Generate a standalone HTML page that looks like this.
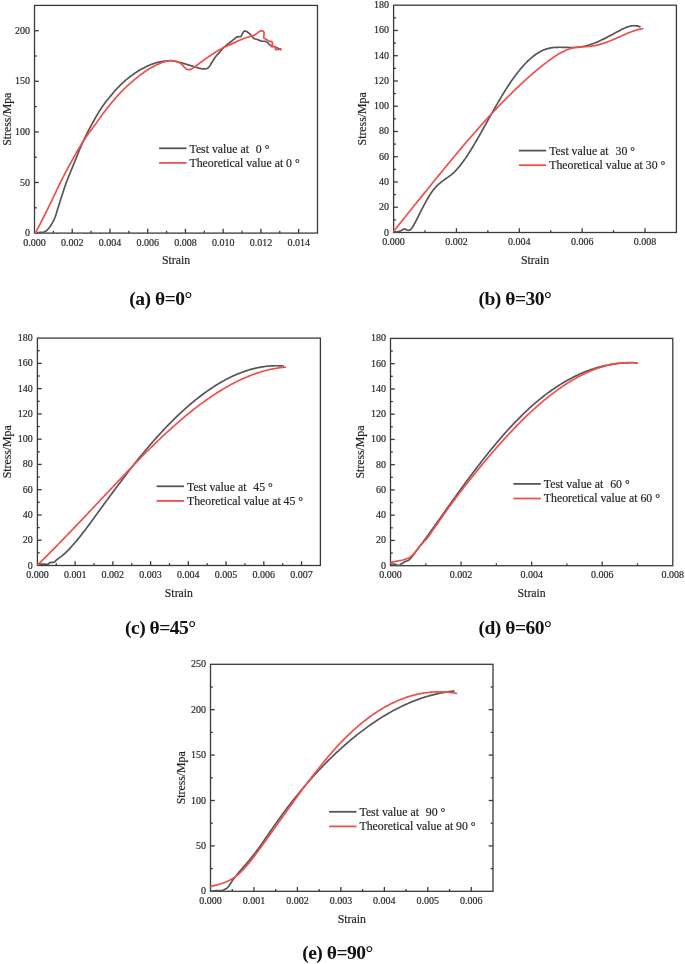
<!DOCTYPE html>
<html><head><meta charset="utf-8"><style>html,body{margin:0;padding:0;background:#fff;}svg{display:block;will-change:transform;}</style></head>
<body>
<svg width="685" height="964" viewBox="0 0 685 964">
<g stroke="#3a3a3a" stroke-width="1.3" fill="none"><line x1="53.37" y1="233.1" x2="53.37" y2="230.8"/><line x1="72.23" y1="233.1" x2="72.23" y2="228.8"/><line x1="91.1" y1="233.1" x2="91.1" y2="230.8"/><line x1="109.97" y1="233.1" x2="109.97" y2="228.8"/><line x1="128.83" y1="233.1" x2="128.83" y2="230.8"/><line x1="147.7" y1="233.1" x2="147.7" y2="228.8"/><line x1="166.57" y1="233.1" x2="166.57" y2="230.8"/><line x1="185.43" y1="233.1" x2="185.43" y2="228.8"/><line x1="204.3" y1="233.1" x2="204.3" y2="230.8"/><line x1="223.17" y1="233.1" x2="223.17" y2="228.8"/><line x1="242.03" y1="233.1" x2="242.03" y2="230.8"/><line x1="260.9" y1="233.1" x2="260.9" y2="228.8"/><line x1="279.77" y1="233.1" x2="279.77" y2="230.8"/><line x1="298.63" y1="233.1" x2="298.63" y2="228.8"/><line x1="34.5" y1="207.8" x2="36.8" y2="207.8"/><line x1="34.5" y1="182.5" x2="38.8" y2="182.5"/><line x1="34.5" y1="157.2" x2="36.8" y2="157.2"/><line x1="34.5" y1="131.9" x2="38.8" y2="131.9"/><line x1="34.5" y1="106.6" x2="36.8" y2="106.6"/><line x1="34.5" y1="81.3" x2="38.8" y2="81.3"/><line x1="34.5" y1="56" x2="36.8" y2="56"/><line x1="34.5" y1="30.7" x2="38.8" y2="30.7"/><rect x="34.5" y="5.4" width="283" height="227.7"/></g>
<g font-family="Liberation Serif" font-size="10" fill="#161616" stroke="#444" stroke-width="0.2"><text x="34.5" y="245.6" text-anchor="middle">0.000</text><text x="72.23" y="245.6" text-anchor="middle">0.002</text><text x="109.97" y="245.6" text-anchor="middle">0.004</text><text x="147.7" y="245.6" text-anchor="middle">0.006</text><text x="185.43" y="245.6" text-anchor="middle">0.008</text><text x="223.17" y="245.6" text-anchor="middle">0.010</text><text x="260.9" y="245.6" text-anchor="middle">0.012</text><text x="298.63" y="245.6" text-anchor="middle">0.014</text><text x="29.9" y="236.1" text-anchor="end">0</text><text x="29.9" y="185.5" text-anchor="end">50</text><text x="29.9" y="134.9" text-anchor="end">100</text><text x="29.9" y="84.3" text-anchor="end">150</text><text x="29.9" y="33.7" text-anchor="end">200</text></g>
<g font-family="Liberation Serif" font-size="11.8" fill="#161616" stroke="#444" stroke-width="0.2"><text x="176" y="264.4" text-anchor="middle">Strain</text><text transform="translate(10.5 119.25) rotate(-90)" text-anchor="middle">Stress/Mpa</text></g>
<g font-family="Liberation Serif" font-size="11.8" fill="#161616" stroke="#444" stroke-width="0.2"><line x1="159.1" y1="148.3" x2="186.5" y2="148.3" stroke="#565656" stroke-width="1.8"/><line x1="159.1" y1="162.9" x2="186.5" y2="162.9" stroke="#f14e4e" stroke-width="1.8"/><text x="189.5" y="152.8" xml:space="preserve">Test value at  <tspan dx="1">0 °</tspan></text><text x="189.5" y="166.7">Theoretical value at 0 °</text></g>
<text x="160.6" y="305" font-family="Liberation Serif" font-weight="bold" font-size="19.5" letter-spacing="-0.5" fill="#111" text-anchor="middle">(a) θ=0°</text>
<path d="M34.8 232.7 L35.97 232.64 L37.29 232.57 L38.77 232.48 L40.02 232.41 L41.33 232.34 L42.59 232.23 L43.75 232.02 L44.81 231.64 L45.77 231.08 L46.71 230.34 L47.69 229.4 L48.5 228.52 L49.21 227.67 L49.95 226.7 L50.73 225.58 L51.53 224.32 L52.06 223.42 L52.6 222.46 L53.15 221.41 L53.72 220.28 L54.28 219.07 L54.83 217.77 L55.26 216.66 L55.64 215.61 L56.02 214.47 L56.4 213.26 L56.78 212.04 L57.15 210.8 L57.52 209.58 L57.88 208.38 L58.25 207.22 L58.61 206.05 L58.97 204.87 L59.34 203.7 L59.7 202.53 L60.06 201.37 L60.42 200.22 L60.78 199.08 L61.15 197.91 L61.53 196.76 L61.89 195.64 L62.25 194.53 L62.62 193.42 L63 192.28 L63.4 191.08 L63.82 189.83 L64.17 188.79 L64.49 187.84 L64.92 186.59 L65.25 185.61 L65.61 184.56 L66.03 183.4 L66.53 182.04 L66.94 180.94 L67.37 179.83 L67.8 178.74 L68.29 177.5 L68.72 176.43 L69.18 175.29 L69.66 174.11 L70.14 172.92 L70.64 171.7 L71.14 170.48 L71.65 169.25 L72.15 168.03 L72.64 166.83 L73.13 165.65 L73.59 164.52 L74.02 163.46 L74.41 162.51 L74.85 161.43 L75.23 160.49 L75.75 159.18 L76.22 157.99 L76.66 156.87 L77.09 155.78 L77.51 154.73 L77.92 153.68 L78.34 152.64 L78.78 151.58 L79.24 150.47 L79.74 149.28 L80.22 148.17 L80.67 147.11 L81.14 146.03 L81.62 144.93 L82.11 143.81 L82.61 142.7 L83.11 141.58 L83.62 140.45 L84.14 139.32 L84.67 138.19 L85.21 137.06 L85.76 135.92 L86.31 134.79 L86.84 133.73 L87.39 132.64 L87.96 131.54 L88.54 130.43 L89.12 129.31 L89.72 128.2 L90.32 127.08 L90.91 125.98 L91.51 124.89 L92.11 123.81 L92.69 122.75 L93.25 121.74 L93.79 120.77 L94.41 119.67 L95.07 118.5 L95.7 117.38 L96.33 116.29 L96.95 115.22 L97.56 114.17 L98.17 113.14 L98.77 112.14 L99.38 111.15 L99.98 110.19 L100.57 109.26 L101.23 108.27 L101.96 107.19 L102.66 106.18 L103.34 105.23 L104.01 104.32 L104.7 103.41 L105.39 102.5 L106.12 101.57 L106.9 100.58 L107.75 99.51 L108.49 98.59 L109.18 97.74 L109.91 96.83 L110.69 95.88 L111.48 94.91 L112.29 93.93 L113.1 92.96 L113.92 92 L114.74 91.05 L115.56 90.12 L116.35 89.24 L117.12 88.41 L117.99 87.49 L118.91 86.54 L119.82 85.64 L120.72 84.76 L121.62 83.91 L122.52 83.08 L123.42 82.26 L124.32 81.46 L125.2 80.68 L126.09 79.93 L127.01 79.15 L127.99 78.34 L128.95 77.55 L129.91 76.79 L130.88 76.05 L131.84 75.33 L132.8 74.62 L133.76 73.94 L134.7 73.28 L135.65 72.64 L136.7 71.96 L137.81 71.26 L138.9 70.6 L139.99 69.97 L141.07 69.36 L142.16 68.77 L143.24 68.2 L144.32 67.64 L145.39 67.11 L146.52 66.56 L147.65 66.03 L148.76 65.52 L149.88 65.03 L150.99 64.56 L152.11 64.12 L153.21 63.72 L154.31 63.34 L155.47 62.99 L156.7 62.65 L157.94 62.35 L159.2 62.08 L160.43 61.83 L161.62 61.61 L162.7 61.43 L163.69 61.27 L165.01 61.08 L166.43 60.9 L167.62 60.8 L168.7 60.74 L169.72 60.72 L170.89 60.74 L172.21 60.84 L173.43 60.99 L174.6 61.18 L175.79 61.41 L177 61.67 L178.19 61.96 L179.39 62.27 L180.59 62.59 L181.8 62.92 L183.03 63.26 L184.26 63.6 L185.49 63.96 L186.7 64.33 L187.9 64.72 L189.1 65.11 L190.29 65.5 L191.5 65.89 L192.71 66.28 L193.95 66.66 L195.18 67.03 L196.4 67.38 L197.61 67.73 L198.86 68.08 L200.09 68.39 L201.24 68.64 L202.42 68.82 L203.78 68.92 L205.01 68.91 L206.03 68.78 L207.12 68.44 L208.13 67.82 L208.98 67 L209.77 65.95 L210.43 64.9 L211.15 63.68 L211.85 62.48 L212.51 61.4 L213.21 60.3 L213.94 59.17 L214.67 58.09 L215.35 57.11 L216.02 56.23 L216.91 55.19 L217.68 54.37 L218.64 53.35 L219.46 52.44 L220.13 51.63 L220.88 50.71 L221.72 49.71 L222.57 48.72 L223.44 47.81 L224.31 46.96 L225.27 46.13 L226.27 45.31 L227.29 44.51 L228.27 43.76 L229.18 43.05 L230.18 42.25 L231.25 41.39 L232.24 40.58 L233.11 39.88 L234.13 39.04 L234.97 38.34 L236.02 37.51 L237.09 36.93 L238.5 36.7 L239.92 36.75 L240.93 36.45 L241.59 35.59 L242.03 34.66 L242.63 33.33 L243.29 32.09 L244.32 31.15 L245.56 31.04 L246.56 31.44 L247.8 32.3 L248.87 33.17 L249.91 34.09 L250.82 35.01 L251.63 35.97 L252.3 36.83 L253.11 37.7 L254.1 38.48 L255.15 38.97 L256.41 39.29 L257.76 39.64 L259.13 40.17 L260.23 40.66 L261.32 41.05 L262.61 41.24 L263.95 41.26 L265.26 41.33 L266.33 41.66 L267.37 42.34 L268.3 43.23 L269.22 44.27 L270.11 45.12 L271.13 45.78 L272.2 46.18 L273.52 46.46 L274.77 46.77 L275.88 47.26 L276.95 47.86 L278.03 48.4 L279.25 48.87 L280.33 49.11 L281 49.2" fill="none" stroke="#565656" stroke-width="1.7" stroke-linejoin="round" stroke-linecap="round"/>
<path d="M35.6 232.9 L36.1 231.91 L36.57 230.98 L37.13 229.87 L37.6 228.95 L38.1 227.97 L38.62 226.95 L39.17 225.87 L39.73 224.75 L40.32 223.6 L40.92 222.41 L41.53 221.2 L42.16 219.97 L42.79 218.72 L43.42 217.47 L44.05 216.21 L44.69 214.95 L45.31 213.71 L45.93 212.47 L46.54 211.26 L47.14 210.06 L47.72 208.9 L48.27 207.78 L48.79 206.73 L49.28 205.74 L49.86 204.55 L50.44 203.36 L51.01 202.18 L51.57 201.01 L52.12 199.85 L52.67 198.69 L53.21 197.54 L53.75 196.4 L54.28 195.26 L54.81 194.14 L55.33 193.02 L55.85 191.92 L56.36 190.82 L56.87 189.74 L57.38 188.68 L57.87 187.62 L58.37 186.58 L58.86 185.56 L59.34 184.56 L59.81 183.6 L60.26 182.7 L60.77 181.66 L61.43 180.35 L62.05 179.13 L62.64 177.98 L63.21 176.87 L63.78 175.79 L64.34 174.73 L64.89 173.7 L65.43 172.68 L65.97 171.68 L66.51 170.68 L67.04 169.69 L67.58 168.7 L68.12 167.71 L68.67 166.71 L69.22 165.7 L69.79 164.66 L70.38 163.56 L70.98 162.46 L71.58 161.37 L72.18 160.27 L72.78 159.18 L73.38 158.09 L73.99 157 L74.58 155.93 L75.18 154.87 L75.77 153.82 L76.35 152.79 L76.93 151.77 L77.5 150.79 L78.04 149.86 L78.56 148.97 L79.28 147.76 L79.96 146.62 L80.6 145.56 L81.23 144.53 L81.85 143.53 L82.46 142.55 L83.08 141.58 L83.69 140.62 L84.32 139.66 L84.96 138.69 L85.62 137.71 L86.3 136.7 L86.98 135.72 L87.68 134.73 L88.4 133.74 L89.13 132.75 L89.86 131.76 L90.6 130.76 L91.34 129.78 L92.09 128.79 L92.82 127.81 L93.55 126.84 L94.26 125.88 L94.96 124.93 L95.69 123.92 L96.42 122.88 L97.14 121.87 L97.84 120.87 L98.53 119.87 L99.22 118.88 L99.91 117.88 L100.61 116.89 L101.32 115.9 L102.05 114.89 L102.8 113.87 L103.55 112.88 L104.26 111.94 L105 110.99 L105.75 110.03 L106.51 109.07 L107.28 108.1 L108.06 107.13 L108.84 106.17 L109.62 105.21 L110.4 104.27 L111.17 103.33 L111.94 102.41 L112.69 101.51 L113.5 100.56 L114.3 99.61 L115.1 98.67 L115.9 97.74 L116.69 96.82 L117.49 95.91 L118.28 95.01 L119.08 94.12 L119.88 93.25 L120.67 92.4 L121.46 91.57 L122.28 90.72 L123.17 89.82 L124.06 88.95 L124.94 88.11 L125.82 87.28 L126.71 86.47 L127.59 85.67 L128.47 84.88 L129.35 84.09 L130.23 83.32 L131.09 82.57 L132.01 81.77 L132.96 80.96 L133.89 80.16 L134.82 79.38 L135.75 78.61 L136.67 77.85 L137.6 77.1 L138.53 76.37 L139.46 75.65 L140.37 74.95 L141.36 74.21 L142.38 73.46 L143.39 72.74 L144.4 72.02 L145.41 71.32 L146.42 70.64 L147.43 69.97 L148.43 69.33 L149.42 68.72 L150.43 68.11 L151.57 67.47 L152.73 66.84 L153.9 66.23 L155.05 65.65 L156.18 65.1 L157.26 64.59 L158.2 64.15 L159.27 63.66 L160.41 63.17 L161.39 62.79 L162.46 62.41 L163.66 62.02 L164.77 61.68 L166.02 61.31 L167.17 61.01 L168.38 60.79 L169.56 60.68 L170.77 60.65 L172.03 60.7 L173.22 60.81 L174.4 61.01 L175.7 61.32 L176.91 61.72 L178.03 62.16 L179.16 62.68 L180.21 63.24 L181.19 63.89 L182.13 64.69 L183.03 65.68 L183.93 66.78 L184.75 67.69 L185.79 68.58 L186.91 69.25 L188 69.59 L189.23 69.64 L190.63 69.36 L191.86 68.85 L192.76 68.3 L193.79 67.54 L194.63 66.89 L195.61 66.15 L196.5 65.5 L197.52 64.75 L198.59 63.96 L199.65 63.18 L200.64 62.45 L201.61 61.71 L202.58 60.97 L203.55 60.23 L204.52 59.51 L205.5 58.81 L206.54 58.09 L207.53 57.43 L208.52 56.78 L209.61 56.07 L210.84 55.27 L211.76 54.66 L212.78 53.98 L213.88 53.24 L215.01 52.49 L216.12 51.76 L217.13 51.12 L218.18 50.48 L219.38 49.78 L220.49 49.16 L221.55 48.6 L222.61 48.05 L223.68 47.52 L224.87 46.95 L226.03 46.42 L227.18 45.92 L228.34 45.41 L229.51 44.89 L230.61 44.4 L231.71 43.89 L232.82 43.38 L233.93 42.87 L235.02 42.37 L236.17 41.85 L237.34 41.31 L238.5 40.79 L239.66 40.27 L240.8 39.77 L241.97 39.28 L243.23 38.76 L244.49 38.25 L245.66 37.8 L246.66 37.44 L247.96 37.04 L249.05 36.75 L250.06 36.5 L251.21 36.19 L252.43 35.83 L253.63 35.41 L254.66 34.95 L255.74 34.27 L256.67 33.55 L257.57 32.85 L258.71 32 L259.83 31.3 L260.98 30.87 L262.34 30.78 L263.32 31.2 L264.05 32.49 L264.11 33.51 L263.96 34.88 L263.83 36.1 L263.83 37.14 L264.09 38.19 L265.12 38.91 L266.34 39.4 L267.43 40.13 L268.29 40.75 L269.46 41.15 L270.79 41.34 L271.93 41.88 L272.52 43.01 L272.38 44.33 L271.87 45.59 L271.27 46.7 L272.59 46.78 L273.8 46.31 L274.86 46.54 L275.29 47.59 L275.29 48.87 L275.94 49.7 L276.96 49.74 L278.38 49.4 L279.83 49.48 L280.6 49.9" fill="none" stroke="#f14e4e" stroke-width="1.7" stroke-linejoin="round" stroke-linecap="round"/>
<g stroke="#3a3a3a" stroke-width="1.3" fill="none"><line x1="425.02" y1="232.5" x2="425.02" y2="230.2"/><line x1="456.44" y1="232.5" x2="456.44" y2="228.2"/><line x1="487.87" y1="232.5" x2="487.87" y2="230.2"/><line x1="519.29" y1="232.5" x2="519.29" y2="228.2"/><line x1="550.71" y1="232.5" x2="550.71" y2="230.2"/><line x1="582.13" y1="232.5" x2="582.13" y2="228.2"/><line x1="613.56" y1="232.5" x2="613.56" y2="230.2"/><line x1="644.98" y1="232.5" x2="644.98" y2="228.2"/><line x1="393.6" y1="219.87" x2="395.9" y2="219.87"/><line x1="393.6" y1="207.24" x2="397.9" y2="207.24"/><line x1="393.6" y1="194.62" x2="395.9" y2="194.62"/><line x1="393.6" y1="181.99" x2="397.9" y2="181.99"/><line x1="393.6" y1="169.36" x2="395.9" y2="169.36"/><line x1="393.6" y1="156.73" x2="397.9" y2="156.73"/><line x1="393.6" y1="144.11" x2="395.9" y2="144.11"/><line x1="393.6" y1="131.48" x2="397.9" y2="131.48"/><line x1="393.6" y1="118.85" x2="395.9" y2="118.85"/><line x1="393.6" y1="106.22" x2="397.9" y2="106.22"/><line x1="393.6" y1="93.59" x2="395.9" y2="93.59"/><line x1="393.6" y1="80.97" x2="397.9" y2="80.97"/><line x1="393.6" y1="68.34" x2="395.9" y2="68.34"/><line x1="393.6" y1="55.71" x2="397.9" y2="55.71"/><line x1="393.6" y1="43.08" x2="395.9" y2="43.08"/><line x1="393.6" y1="30.46" x2="397.9" y2="30.46"/><line x1="393.6" y1="17.83" x2="395.9" y2="17.83"/><rect x="393.6" y="5.2" width="282.8" height="227.3"/></g>
<g font-family="Liberation Serif" font-size="10" fill="#161616" stroke="#444" stroke-width="0.2"><text x="393.6" y="245" text-anchor="middle">0.000</text><text x="456.44" y="245" text-anchor="middle">0.002</text><text x="519.29" y="245" text-anchor="middle">0.004</text><text x="582.13" y="245" text-anchor="middle">0.006</text><text x="644.98" y="245" text-anchor="middle">0.008</text><text x="389" y="235.5" text-anchor="end">0</text><text x="389" y="210.24" text-anchor="end">20</text><text x="389" y="184.99" text-anchor="end">40</text><text x="389" y="159.73" text-anchor="end">60</text><text x="389" y="134.48" text-anchor="end">80</text><text x="389" y="109.22" text-anchor="end">100</text><text x="389" y="83.97" text-anchor="end">120</text><text x="389" y="58.71" text-anchor="end">140</text><text x="389" y="33.46" text-anchor="end">160</text><text x="389" y="8.2" text-anchor="end">180</text></g>
<g font-family="Liberation Serif" font-size="11.8" fill="#161616" stroke="#444" stroke-width="0.2"><text x="535" y="263.8" text-anchor="middle">Strain</text><text transform="translate(366.2 118.85) rotate(-90)" text-anchor="middle">Stress/Mpa</text></g>
<g font-family="Liberation Serif" font-size="11.8" fill="#161616" stroke="#444" stroke-width="0.2"><line x1="518.8" y1="150.6" x2="546.2" y2="150.6" stroke="#565656" stroke-width="1.8"/><line x1="518.8" y1="165.2" x2="546.2" y2="165.2" stroke="#f14e4e" stroke-width="1.8"/><text x="549.2" y="155.1" xml:space="preserve">Test value at  <tspan dx="1">30 °</tspan></text><text x="549.2" y="169">Theoretical value at 30 °</text></g>
<text x="514.9" y="305" font-family="Liberation Serif" font-weight="bold" font-size="19.5" letter-spacing="-0.5" fill="#111" text-anchor="middle">(b) θ=30°</text>
<path d="M393.9 232 L394.9 231.96 L395.9 231.91 L396.9 231.81 L397.9 231.65 L398.9 231.44 L399.9 231.19 L400.9 230.82 L401.9 230.2 L402.9 229.55 L403.9 229.03 L404.9 229.06 L405.9 229.39 L406.9 229.95 L407.9 230.27 L408.9 230.28 L409.9 230.09 L410.9 229.39 L411.9 228.06 L412.9 226.48 L413.9 224.8 L414.4 223.92 L414.9 223.03 L415.4 222.11 L415.9 221.18 L416.4 220.22 L416.9 219.25 L417.4 218.26 L417.9 217.25 L418.4 216.23 L418.9 215.21 L419.4 214.17 L419.9 213.14 L420.4 212.14 L420.9 211.16 L421.4 210.18 L421.9 209.2 L422.4 208.23 L422.9 207.27 L423.4 206.31 L423.9 205.35 L424.4 204.41 L424.9 203.48 L425.4 202.55 L425.9 201.64 L426.4 200.74 L426.9 199.85 L427.4 198.98 L428.4 197.27 L429.4 195.63 L430.4 194.05 L431.4 192.56 L432.4 191.15 L433.4 189.83 L434.4 188.6 L435.4 187.45 L436.4 186.38 L437.4 185.38 L438.4 184.45 L439.4 183.57 L440.4 182.73 L441.4 181.94 L442.4 181.18 L443.4 180.44 L444.4 179.72 L445.4 179.01 L446.4 178.31 L447.4 177.6 L448.4 176.88 L449.4 176.14 L450.4 175.37 L451.4 174.57 L452.4 173.73 L453.4 172.84 L454.4 171.9 L455.4 170.9 L456.4 169.85 L457.4 168.75 L458.4 167.61 L459.4 166.41 L460.4 165.18 L461.4 163.89 L462.4 162.57 L463.4 161.21 L464.4 159.81 L465.4 158.38 L466.4 156.91 L467.4 155.41 L468.4 153.87 L469.4 152.31 L470.4 150.73 L471.4 149.11 L472.4 147.47 L473.4 145.81 L474.4 144.13 L475.4 142.43 L476.4 140.72 L477.4 138.99 L477.9 138.12 L478.4 137.25 L478.9 136.37 L479.4 135.49 L479.9 134.61 L480.4 133.72 L480.9 132.84 L481.4 131.95 L481.9 131.06 L482.4 130.17 L482.9 129.28 L483.4 128.39 L483.9 127.49 L484.4 126.6 L484.9 125.7 L485.4 124.81 L485.9 123.91 L486.4 123.02 L486.9 122.12 L487.4 121.22 L487.9 120.33 L488.4 119.43 L488.9 118.54 L489.4 117.65 L489.9 116.75 L490.4 115.86 L490.9 114.97 L491.4 114.08 L491.9 113.19 L492.4 112.3 L492.9 111.42 L493.4 110.53 L493.9 109.65 L494.4 108.77 L494.9 107.89 L495.4 107.02 L495.9 106.14 L496.4 105.27 L496.9 104.41 L497.9 102.68 L498.9 100.97 L499.9 99.26 L500.9 97.58 L501.9 95.91 L502.9 94.26 L503.9 92.62 L504.9 91 L505.9 89.41 L506.9 87.84 L507.9 86.28 L508.9 84.76 L509.9 83.25 L510.9 81.77 L511.9 80.32 L512.9 78.9 L513.9 77.5 L514.9 76.13 L515.9 74.79 L516.9 73.47 L517.9 72.19 L518.9 70.93 L519.9 69.7 L520.9 68.51 L521.9 67.34 L522.9 66.2 L523.9 65.09 L524.9 64.02 L525.9 62.97 L526.9 61.96 L527.9 60.97 L528.9 60.03 L529.9 59.11 L530.9 58.23 L531.9 57.37 L532.9 56.56 L533.9 55.78 L534.9 55.03 L535.9 54.31 L536.9 53.64 L537.9 52.99 L538.9 52.39 L539.9 51.82 L540.9 51.28 L541.9 50.78 L542.9 50.32 L543.9 49.9 L544.9 49.52 L545.9 49.17 L546.9 48.86 L547.9 48.58 L548.9 48.34 L549.9 48.12 L550.9 47.94 L551.9 47.78 L552.9 47.64 L553.9 47.53 L554.9 47.44 L555.9 47.38 L556.9 47.33 L557.9 47.29 L558.9 47.27 L559.9 47.26 L560.9 47.27 L561.9 47.28 L562.9 47.3 L563.9 47.33 L564.9 47.36 L565.9 47.39 L566.9 47.42 L567.9 47.46 L568.9 47.48 L569.9 47.51 L570.9 47.52 L571.9 47.53 L572.9 47.53 L573.9 47.51 L574.9 47.48 L575.9 47.44 L576.9 47.38 L577.9 47.3 L578.9 47.2 L579.9 47.07 L580.9 46.93 L581.9 46.76 L582.9 46.57 L583.9 46.36 L584.9 46.14 L585.9 45.89 L586.9 45.63 L587.9 45.34 L588.9 45.04 L589.9 44.73 L590.9 44.4 L591.9 44.05 L592.9 43.69 L593.9 43.31 L594.9 42.92 L595.9 42.52 L596.9 42.1 L597.9 41.67 L598.9 41.23 L599.9 40.78 L600.9 40.32 L601.9 39.85 L602.9 39.37 L603.9 38.88 L604.9 38.39 L605.9 37.88 L606.9 37.37 L607.9 36.85 L608.9 36.33 L609.9 35.8 L610.9 35.27 L611.9 34.73 L612.9 34.19 L613.9 33.65 L614.9 33.1 L615.9 32.56 L616.9 32.01 L617.9 31.46 L618.9 30.92 L619.9 30.38 L620.9 29.86 L621.9 29.35 L622.9 28.86 L623.9 28.4 L624.9 27.96 L625.9 27.54 L626.9 27.16 L627.9 26.82 L628.9 26.52 L629.9 26.26 L630.9 26.04 L631.9 25.88 L632.9 25.77 L633.9 25.72 L634.9 25.73 L635.9 25.8 L636.9 25.94 L637.9 26.15 L638.9 26.44 L639.9 26.8" fill="none" stroke="#565656" stroke-width="1.7" stroke-linejoin="round" stroke-linecap="round"/>
<path d="M393.9 230.9 L394.9 229.66 L395.9 228.43 L396.9 227.19 L397.9 225.95 L398.9 224.71 L399.9 223.47 L400.9 222.23 L401.9 220.99 L402.9 219.75 L403.9 218.51 L404.9 217.27 L405.9 216.02 L406.9 214.78 L407.9 213.54 L408.9 212.29 L409.9 211.05 L410.9 209.8 L411.9 208.56 L412.9 207.32 L413.9 206.07 L414.9 204.83 L415.9 203.58 L416.9 202.34 L417.9 201.1 L418.9 199.85 L419.9 198.61 L420.9 197.37 L421.9 196.12 L422.9 194.88 L423.9 193.64 L424.9 192.4 L425.9 191.16 L426.9 189.92 L427.9 188.68 L428.9 187.44 L429.9 186.21 L430.9 184.97 L431.9 183.73 L432.9 182.5 L433.9 181.27 L434.9 180.04 L435.9 178.8 L436.9 177.58 L437.9 176.35 L438.9 175.12 L439.9 173.89 L440.9 172.67 L441.9 171.45 L442.9 170.23 L443.9 169.01 L444.9 167.79 L445.9 166.57 L446.9 165.36 L447.9 164.15 L448.9 162.94 L449.9 161.73 L450.9 160.52 L451.9 159.32 L452.9 158.12 L453.9 156.92 L454.9 155.72 L455.9 154.52 L456.9 153.33 L457.9 152.14 L458.9 150.95 L459.9 149.76 L460.9 148.58 L461.9 147.4 L462.9 146.22 L463.9 145.04 L464.9 143.87 L465.9 142.7 L466.9 141.53 L467.9 140.37 L468.9 139.21 L469.9 138.05 L470.9 136.89 L471.9 135.74 L472.9 134.59 L473.9 133.44 L474.9 132.3 L475.9 131.16 L476.9 130.03 L477.9 128.89 L478.9 127.76 L479.9 126.64 L480.9 125.52 L481.9 124.4 L482.9 123.28 L483.9 122.17 L484.9 121.07 L485.9 119.96 L486.9 118.86 L487.9 117.77 L488.9 116.68 L489.9 115.59 L490.9 114.51 L491.9 113.43 L492.9 112.35 L493.9 111.28 L494.9 110.22 L495.9 109.15 L496.9 108.1 L497.9 107.04 L498.9 106 L499.9 104.95 L500.9 103.91 L501.9 102.88 L502.9 101.85 L503.9 100.82 L504.9 99.8 L505.9 98.79 L506.9 97.78 L507.9 96.77 L508.9 95.78 L509.9 94.78 L510.9 93.79 L511.9 92.81 L512.9 91.83 L513.9 90.85 L514.9 89.89 L515.9 88.92 L516.9 87.97 L517.9 87.02 L518.9 86.07 L519.9 85.13 L520.9 84.19 L521.9 83.27 L522.9 82.34 L523.9 81.43 L524.9 80.52 L525.9 79.61 L526.9 78.71 L527.9 77.82 L528.9 76.93 L529.9 76.05 L530.9 75.18 L531.9 74.31 L532.9 73.45 L533.9 72.59 L534.9 71.74 L535.9 70.9 L536.9 70.07 L537.9 69.24 L538.9 68.42 L539.9 67.6 L540.9 66.79 L541.9 65.99 L542.9 65.19 L543.9 64.41 L544.9 63.63 L545.9 62.85 L546.9 62.09 L547.9 61.33 L548.9 60.58 L549.9 59.85 L550.9 59.13 L551.9 58.41 L552.9 57.72 L553.9 57.03 L554.9 56.36 L555.9 55.71 L556.9 55.07 L557.9 54.46 L558.9 53.86 L559.9 53.28 L560.9 52.72 L561.9 52.18 L562.9 51.66 L563.9 51.17 L564.9 50.7 L565.9 50.25 L566.9 49.83 L567.9 49.44 L568.9 49.07 L569.9 48.73 L570.9 48.42 L571.9 48.14 L572.9 47.9 L573.9 47.68 L574.9 47.49 L575.9 47.33 L576.9 47.2 L577.9 47.09 L578.9 47 L579.9 46.93 L580.9 46.87 L581.9 46.81 L582.9 46.77 L583.9 46.72 L584.9 46.68 L585.9 46.63 L586.9 46.58 L587.9 46.51 L588.9 46.44 L589.9 46.34 L590.9 46.23 L591.9 46.09 L592.9 45.94 L593.9 45.77 L594.9 45.58 L595.9 45.37 L596.9 45.15 L597.9 44.91 L598.9 44.66 L599.9 44.39 L600.9 44.1 L601.9 43.8 L602.9 43.49 L603.9 43.17 L604.9 42.83 L605.9 42.48 L606.9 42.12 L607.9 41.75 L608.9 41.37 L609.9 40.98 L610.9 40.58 L611.9 40.17 L612.9 39.76 L613.9 39.33 L614.9 38.9 L615.9 38.47 L616.9 38.03 L617.9 37.58 L618.9 37.13 L619.9 36.68 L620.9 36.23 L621.9 35.78 L622.9 35.33 L623.9 34.88 L624.9 34.44 L625.9 34 L626.9 33.57 L627.9 33.15 L628.9 32.73 L629.9 32.33 L630.9 31.94 L631.9 31.56 L632.9 31.19 L633.9 30.84 L634.9 30.5 L635.9 30.19 L636.9 29.89 L637.9 29.61 L638.9 29.35 L639.9 29.11 L640.9 28.9 L641.9 28.72 L642.6 28.6" fill="none" stroke="#f14e4e" stroke-width="1.7" stroke-linejoin="round" stroke-linecap="round"/>
<g stroke="#3a3a3a" stroke-width="1.3" fill="none"><line x1="56.27" y1="565.5" x2="56.27" y2="563.2"/><line x1="75.13" y1="565.5" x2="75.13" y2="561.2"/><line x1="94" y1="565.5" x2="94" y2="563.2"/><line x1="112.87" y1="565.5" x2="112.87" y2="561.2"/><line x1="131.73" y1="565.5" x2="131.73" y2="563.2"/><line x1="150.6" y1="565.5" x2="150.6" y2="561.2"/><line x1="169.47" y1="565.5" x2="169.47" y2="563.2"/><line x1="188.33" y1="565.5" x2="188.33" y2="561.2"/><line x1="207.2" y1="565.5" x2="207.2" y2="563.2"/><line x1="226.07" y1="565.5" x2="226.07" y2="561.2"/><line x1="244.93" y1="565.5" x2="244.93" y2="563.2"/><line x1="263.8" y1="565.5" x2="263.8" y2="561.2"/><line x1="282.67" y1="565.5" x2="282.67" y2="563.2"/><line x1="301.53" y1="565.5" x2="301.53" y2="561.2"/><line x1="37.4" y1="552.87" x2="39.7" y2="552.87"/><line x1="37.4" y1="540.23" x2="41.7" y2="540.23"/><line x1="37.4" y1="527.6" x2="39.7" y2="527.6"/><line x1="37.4" y1="514.97" x2="41.7" y2="514.97"/><line x1="37.4" y1="502.33" x2="39.7" y2="502.33"/><line x1="37.4" y1="489.7" x2="41.7" y2="489.7"/><line x1="37.4" y1="477.07" x2="39.7" y2="477.07"/><line x1="37.4" y1="464.43" x2="41.7" y2="464.43"/><line x1="37.4" y1="451.8" x2="39.7" y2="451.8"/><line x1="37.4" y1="439.17" x2="41.7" y2="439.17"/><line x1="37.4" y1="426.53" x2="39.7" y2="426.53"/><line x1="37.4" y1="413.9" x2="41.7" y2="413.9"/><line x1="37.4" y1="401.27" x2="39.7" y2="401.27"/><line x1="37.4" y1="388.63" x2="41.7" y2="388.63"/><line x1="37.4" y1="376" x2="39.7" y2="376"/><line x1="37.4" y1="363.37" x2="41.7" y2="363.37"/><line x1="37.4" y1="350.73" x2="39.7" y2="350.73"/><rect x="37.4" y="338.1" width="283" height="227.4"/></g>
<g font-family="Liberation Serif" font-size="10" fill="#161616" stroke="#444" stroke-width="0.2"><text x="37.4" y="578" text-anchor="middle">0.000</text><text x="75.13" y="578" text-anchor="middle">0.001</text><text x="112.87" y="578" text-anchor="middle">0.002</text><text x="150.6" y="578" text-anchor="middle">0.003</text><text x="188.33" y="578" text-anchor="middle">0.004</text><text x="226.07" y="578" text-anchor="middle">0.005</text><text x="263.8" y="578" text-anchor="middle">0.006</text><text x="301.53" y="578" text-anchor="middle">0.007</text><text x="32.8" y="568.5" text-anchor="end">0</text><text x="32.8" y="543.23" text-anchor="end">20</text><text x="32.8" y="517.97" text-anchor="end">40</text><text x="32.8" y="492.7" text-anchor="end">60</text><text x="32.8" y="467.43" text-anchor="end">80</text><text x="32.8" y="442.17" text-anchor="end">100</text><text x="32.8" y="416.9" text-anchor="end">120</text><text x="32.8" y="391.63" text-anchor="end">140</text><text x="32.8" y="366.37" text-anchor="end">160</text><text x="32.8" y="341.1" text-anchor="end">180</text></g>
<g font-family="Liberation Serif" font-size="11.8" fill="#161616" stroke="#444" stroke-width="0.2"><text x="178.9" y="596.8" text-anchor="middle">Strain</text><text transform="translate(11.3 451.8) rotate(-90)" text-anchor="middle">Stress/Mpa</text></g>
<g font-family="Liberation Serif" font-size="11.8" fill="#161616" stroke="#444" stroke-width="0.2"><line x1="156.6" y1="486.3" x2="184" y2="486.3" stroke="#565656" stroke-width="1.8"/><line x1="156.6" y1="500.9" x2="184" y2="500.9" stroke="#f14e4e" stroke-width="1.8"/><text x="187" y="490.8" xml:space="preserve">Test value at  <tspan dx="1">45 °</tspan></text><text x="187" y="504.7">Theoretical value at 45 °</text></g>
<text x="160.3" y="634.3" font-family="Liberation Serif" font-weight="bold" font-size="19.5" letter-spacing="-0.5" fill="#111" text-anchor="middle">(c) θ=45°</text>
<path d="M37.9 564.8 L38.9 564.54 L39.9 564.32 L40.9 564.19 L41.9 564.15 L42.9 564.15 L43.9 564.16 L44.9 564.18 L45.9 564.23 L46.9 564.42 L47.9 564.26 L48.9 563.5 L49.9 562.62 L50.9 562.37 L51.9 562.39 L52.9 562.39 L53.9 562.23 L54.9 561.62 L55.9 560.57 L56.9 559.67 L57.9 558.85 L58.9 558.09 L59.9 557.36 L60.9 556.66 L61.9 555.96 L62.9 555.12 L63.9 554.24 L64.9 553.32 L65.9 552.38 L66.9 551.4 L67.9 550.41 L68.9 549.38 L69.9 548.33 L70.9 547.26 L71.9 546.16 L72.9 545.04 L73.9 543.9 L74.9 542.74 L75.9 541.57 L76.9 540.37 L77.9 539.15 L78.9 537.92 L79.9 536.67 L80.9 535.41 L81.9 534.13 L82.9 532.84 L83.9 531.54 L84.9 530.23 L85.9 528.9 L86.9 527.57 L87.9 526.23 L88.9 524.88 L89.9 523.53 L90.9 522.17 L91.9 520.8 L92.9 519.43 L93.9 518.06 L94.9 516.69 L95.9 515.31 L96.9 513.93 L97.9 512.56 L98.9 511.19 L99.9 509.81 L100.9 508.44 L101.9 507.07 L102.9 505.7 L103.9 504.33 L104.9 502.97 L105.9 501.6 L106.9 500.24 L107.9 498.88 L108.9 497.52 L109.9 496.17 L110.9 494.82 L111.9 493.46 L112.9 492.12 L113.9 490.77 L114.9 489.43 L115.9 488.09 L116.9 486.75 L117.9 485.42 L118.9 484.09 L119.9 482.76 L120.9 481.44 L121.9 480.12 L122.9 478.8 L123.9 477.49 L124.9 476.19 L125.9 474.88 L126.9 473.58 L127.9 472.29 L128.9 471 L129.9 469.71 L130.9 468.43 L131.9 467.16 L132.9 465.89 L133.9 464.62 L134.9 463.36 L135.9 462.1 L136.9 460.85 L137.9 459.61 L138.9 458.37 L139.9 457.14 L140.9 455.91 L141.9 454.69 L142.9 453.48 L143.9 452.27 L144.9 451.07 L145.9 449.87 L146.9 448.69 L147.9 447.5 L148.9 446.33 L149.9 445.16 L150.9 444 L151.9 442.85 L152.9 441.7 L153.9 440.56 L154.9 439.43 L155.9 438.31 L156.9 437.19 L157.9 436.08 L158.9 434.98 L159.9 433.88 L160.9 432.79 L161.9 431.71 L162.9 430.64 L163.9 429.58 L164.9 428.52 L165.9 427.47 L166.9 426.42 L167.9 425.39 L168.9 424.36 L169.9 423.34 L170.9 422.33 L171.9 421.33 L172.9 420.33 L173.9 419.34 L174.9 418.36 L175.9 417.39 L176.9 416.42 L177.9 415.47 L178.9 414.52 L179.9 413.58 L180.9 412.64 L181.9 411.72 L182.9 410.8 L183.9 409.89 L184.9 408.99 L185.9 408.1 L186.9 407.22 L187.9 406.34 L188.9 405.48 L189.9 404.62 L190.9 403.77 L191.9 402.93 L192.9 402.09 L193.9 401.27 L194.9 400.45 L195.9 399.64 L196.9 398.84 L197.9 398.05 L198.9 397.27 L199.9 396.5 L200.9 395.73 L201.9 394.98 L202.9 394.23 L203.9 393.49 L204.9 392.77 L205.9 392.05 L206.9 391.33 L207.9 390.63 L208.9 389.94 L209.9 389.25 L210.9 388.58 L211.9 387.91 L212.9 387.26 L213.9 386.61 L214.9 385.97 L215.9 385.34 L216.9 384.72 L217.9 384.11 L218.9 383.51 L219.9 382.92 L220.9 382.33 L221.9 381.76 L222.9 381.2 L223.9 380.64 L224.9 380.1 L225.9 379.56 L226.9 379.04 L227.9 378.52 L228.9 378.02 L229.9 377.52 L230.9 377.03 L231.9 376.56 L232.9 376.09 L233.9 375.63 L234.9 375.18 L235.9 374.75 L236.9 374.32 L237.9 373.9 L238.9 373.49 L239.9 373.1 L240.9 372.71 L241.9 372.33 L242.9 371.97 L243.9 371.61 L244.9 371.26 L245.9 370.92 L246.9 370.6 L247.9 370.28 L248.9 369.98 L249.9 369.68 L250.9 369.4 L251.9 369.12 L252.9 368.86 L253.9 368.61 L254.9 368.36 L255.9 368.13 L256.9 367.91 L257.9 367.7 L258.9 367.5 L259.9 367.31 L260.9 367.13 L261.9 366.96 L262.9 366.8 L263.9 366.66 L264.9 366.52 L265.9 366.4 L266.9 366.28 L267.9 366.18 L268.9 366.09 L269.9 366.01 L270.9 365.94 L271.9 365.88 L272.9 365.83 L273.9 365.79 L274.9 365.77 L275.9 365.76 L276.9 365.75 L277.9 365.76 L278.9 365.78 L279.9 365.81 L280.9 365.86 L281.9 365.91 L282.9 365.98 L283.2 366" fill="none" stroke="#565656" stroke-width="1.7" stroke-linejoin="round" stroke-linecap="round"/>
<path d="M38 564.7 L39 563.71 L40 562.71 L41 561.72 L42 560.72 L43 559.72 L44 558.72 L45 557.72 L46 556.71 L47 555.71 L48 554.7 L49 553.69 L50 552.68 L51 551.66 L52 550.65 L53 549.63 L54 548.61 L55 547.59 L56 546.57 L57 545.54 L58 544.52 L59 543.49 L60 542.46 L61 541.43 L62 540.4 L63 539.37 L64 538.34 L65 537.3 L66 536.27 L67 535.23 L68 534.19 L69 533.15 L70 532.11 L71 531.07 L72 530.02 L73 528.98 L74 527.94 L75 526.89 L76 525.84 L77 524.79 L78 523.75 L79 522.7 L80 521.64 L81 520.59 L82 519.54 L83 518.49 L84 517.43 L85 516.38 L86 515.33 L87 514.27 L88 513.21 L89 512.16 L90 511.1 L91 510.04 L92 508.98 L93 507.93 L94 506.87 L95 505.81 L96 504.75 L97 503.69 L98 502.63 L99 501.57 L100 500.51 L101 499.45 L102 498.39 L103 497.32 L104 496.26 L105 495.2 L106 494.14 L107 493.08 L108 492.02 L109 490.96 L110 489.9 L111 488.84 L112 487.78 L113 486.72 L114 485.66 L115 484.6 L116 483.54 L117 482.48 L118 481.43 L119 480.37 L120 479.32 L121 478.26 L122 477.21 L123 476.16 L124 475.11 L125 474.06 L126 473.01 L127 471.96 L128 470.92 L129 469.87 L130 468.83 L131 467.79 L132 466.76 L133 465.72 L134 464.69 L135 463.66 L136 462.63 L137 461.6 L138 460.57 L139 459.55 L140 458.53 L141 457.52 L142 456.5 L143 455.49 L144 454.48 L145 453.48 L146 452.47 L147 451.47 L148 450.48 L149 449.49 L150 448.5 L151 447.51 L152 446.53 L153 445.55 L154 444.57 L155 443.6 L156 442.63 L157 441.67 L158 440.71 L159 439.75 L160 438.8 L161 437.85 L162 436.91 L163 435.97 L164 435.03 L165 434.1 L166 433.18 L167 432.25 L168 431.34 L169 430.42 L170 429.52 L171 428.61 L172 427.71 L173 426.82 L174 425.93 L175 425.04 L176 424.16 L177 423.29 L178 422.42 L179 421.55 L180 420.69 L181 419.83 L182 418.98 L183 418.14 L184 417.3 L185 416.46 L186 415.63 L187 414.81 L188 413.99 L189 413.18 L190 412.37 L191 411.57 L192 410.77 L193 409.98 L194 409.2 L195 408.42 L196 407.64 L197 406.87 L198 406.11 L199 405.36 L200 404.61 L201 403.86 L202 403.12 L203 402.39 L204 401.67 L205 400.95 L206 400.23 L207 399.53 L208 398.83 L209 398.13 L210 397.44 L211 396.76 L212 396.09 L213 395.42 L214 394.76 L215 394.1 L216 393.45 L217 392.81 L218 392.18 L219 391.55 L220 390.93 L221 390.31 L222 389.71 L223 389.11 L224 388.51 L225 387.93 L226 387.35 L227 386.78 L228 386.21 L229 385.66 L230 385.11 L231 384.56 L232 384.03 L233 383.5 L234 382.98 L235 382.47 L236 381.97 L237 381.47 L238 380.98 L239 380.5 L240 380.02 L241 379.56 L242 379.1 L243 378.64 L244 378.2 L245 377.77 L246 377.34 L247 376.92 L248 376.51 L249 376.1 L250 375.71 L251 375.32 L252 374.94 L253 374.57 L254 374.2 L255 373.85 L256 373.5 L257 373.16 L258 372.83 L259 372.51 L260 372.19 L261 371.88 L262 371.59 L263 371.3 L264 371.02 L265 370.74 L266 370.48 L267 370.23 L268 369.98 L269 369.74 L270 369.51 L271 369.29 L272 369.08 L273 368.87 L274 368.68 L275 368.49 L276 368.32 L277 368.15 L278 367.99 L279 367.84 L280 367.7 L281 367.57 L282 367.44 L283 367.33 L284 367.22 L285 367.13 L285.3 367.1" fill="none" stroke="#f14e4e" stroke-width="1.7" stroke-linejoin="round" stroke-linecap="round"/>
<g stroke="#3a3a3a" stroke-width="1.3" fill="none"><line x1="425.79" y1="565.7" x2="425.79" y2="563.4"/><line x1="461.07" y1="565.7" x2="461.07" y2="561.4"/><line x1="496.36" y1="565.7" x2="496.36" y2="563.4"/><line x1="531.65" y1="565.7" x2="531.65" y2="561.4"/><line x1="566.94" y1="565.7" x2="566.94" y2="563.4"/><line x1="602.22" y1="565.7" x2="602.22" y2="561.4"/><line x1="637.51" y1="565.7" x2="637.51" y2="563.4"/><line x1="390.5" y1="553.07" x2="392.8" y2="553.07"/><line x1="390.5" y1="540.44" x2="394.8" y2="540.44"/><line x1="390.5" y1="527.82" x2="392.8" y2="527.82"/><line x1="390.5" y1="515.19" x2="394.8" y2="515.19"/><line x1="390.5" y1="502.56" x2="392.8" y2="502.56"/><line x1="390.5" y1="489.93" x2="394.8" y2="489.93"/><line x1="390.5" y1="477.31" x2="392.8" y2="477.31"/><line x1="390.5" y1="464.68" x2="394.8" y2="464.68"/><line x1="390.5" y1="452.05" x2="392.8" y2="452.05"/><line x1="390.5" y1="439.42" x2="394.8" y2="439.42"/><line x1="390.5" y1="426.79" x2="392.8" y2="426.79"/><line x1="390.5" y1="414.17" x2="394.8" y2="414.17"/><line x1="390.5" y1="401.54" x2="392.8" y2="401.54"/><line x1="390.5" y1="388.91" x2="394.8" y2="388.91"/><line x1="390.5" y1="376.28" x2="392.8" y2="376.28"/><line x1="390.5" y1="363.66" x2="394.8" y2="363.66"/><line x1="390.5" y1="351.03" x2="392.8" y2="351.03"/><rect x="390.5" y="338.4" width="282.3" height="227.3"/></g>
<g font-family="Liberation Serif" font-size="10" fill="#161616" stroke="#444" stroke-width="0.2"><text x="390.5" y="578.2" text-anchor="middle">0.000</text><text x="461.07" y="578.2" text-anchor="middle">0.002</text><text x="531.65" y="578.2" text-anchor="middle">0.004</text><text x="602.22" y="578.2" text-anchor="middle">0.006</text><text x="672.8" y="578.2" text-anchor="middle">0.008</text><text x="385.9" y="568.7" text-anchor="end">0</text><text x="385.9" y="543.44" text-anchor="end">20</text><text x="385.9" y="518.19" text-anchor="end">40</text><text x="385.9" y="492.93" text-anchor="end">60</text><text x="385.9" y="467.68" text-anchor="end">80</text><text x="385.9" y="442.42" text-anchor="end">100</text><text x="385.9" y="417.17" text-anchor="end">120</text><text x="385.9" y="391.91" text-anchor="end">140</text><text x="385.9" y="366.66" text-anchor="end">160</text><text x="385.9" y="341.4" text-anchor="end">180</text></g>
<g font-family="Liberation Serif" font-size="11.8" fill="#161616" stroke="#444" stroke-width="0.2"><text x="531.65" y="597" text-anchor="middle">Strain</text><text transform="translate(364 452.05) rotate(-90)" text-anchor="middle">Stress/Mpa</text></g>
<g font-family="Liberation Serif" font-size="11.8" fill="#161616" stroke="#444" stroke-width="0.2"><line x1="513.4" y1="483.9" x2="540.8" y2="483.9" stroke="#565656" stroke-width="1.8"/><line x1="513.4" y1="498.5" x2="540.8" y2="498.5" stroke="#f14e4e" stroke-width="1.8"/><text x="543.8" y="488.4" xml:space="preserve">Test value at  <tspan dx="1">60 °</tspan></text><text x="543.8" y="502.3">Theoretical value at 60 °</text></g>
<text x="514.9" y="634.3" font-family="Liberation Serif" font-weight="bold" font-size="19.5" letter-spacing="-0.5" fill="#111" text-anchor="middle">(d) θ=60°</text>
<path d="M390.9 564.3 L391.9 564.15 L392.9 564.02 L393.9 563.99 L394.9 564.19 L395.9 564.59 L396.9 564.97 L397.9 565.24 L398.9 565.37 L399.9 565.06 L400.9 564.28 L401.9 563.54 L402.9 562.93 L403.9 562.35 L404.9 561.8 L405.9 561.33 L406.9 560.95 L407.9 560.56 L408.9 560.03 L409.9 559.17 L410.9 558.03 L411.9 556.85 L412.9 555.56 L413.9 554.24 L414.9 552.89 L415.9 551.55 L416.9 550.23 L417.9 548.88 L418.9 547.54 L419.9 546.2 L420.9 544.85 L421.9 543.49 L422.9 542.13 L423.9 540.77 L424.9 539.4 L425.9 538.02 L426.9 536.65 L427.9 535.27 L428.9 533.88 L429.9 532.49 L430.9 531.1 L431.9 529.71 L432.9 528.31 L433.9 526.91 L434.9 525.51 L435.9 524.1 L436.9 522.7 L437.9 521.29 L438.9 519.88 L439.9 518.47 L440.9 517.06 L441.9 515.65 L442.9 514.24 L443.9 512.83 L444.9 511.42 L445.9 510.01 L446.9 508.6 L447.9 507.19 L448.9 505.78 L449.9 504.38 L450.9 502.97 L451.9 501.57 L452.9 500.17 L453.9 498.77 L454.9 497.37 L455.9 495.98 L456.9 494.59 L457.9 493.2 L458.9 491.82 L459.9 490.44 L460.9 489.06 L461.9 487.69 L462.9 486.31 L463.9 484.95 L464.9 483.59 L465.9 482.23 L466.9 480.87 L467.9 479.52 L468.9 478.17 L469.9 476.83 L470.9 475.49 L471.9 474.16 L472.9 472.83 L473.9 471.5 L474.9 470.18 L475.9 468.87 L476.9 467.56 L477.9 466.25 L478.9 464.95 L479.9 463.66 L480.9 462.37 L481.9 461.09 L482.9 459.81 L483.9 458.53 L484.9 457.27 L485.9 456.01 L486.9 454.75 L487.9 453.5 L488.9 452.26 L489.9 451.02 L490.9 449.79 L491.9 448.57 L492.9 447.35 L493.9 446.14 L494.9 444.93 L495.9 443.73 L496.9 442.54 L497.9 441.36 L498.9 440.18 L499.9 439.01 L500.9 437.85 L501.9 436.69 L502.9 435.55 L503.9 434.41 L504.9 433.28 L505.9 432.15 L506.9 431.03 L507.9 429.93 L508.9 428.82 L509.9 427.73 L510.9 426.65 L511.9 425.57 L512.9 424.5 L513.9 423.45 L514.9 422.4 L515.9 421.35 L516.9 420.32 L517.9 419.3 L518.9 418.28 L519.9 417.28 L520.9 416.28 L521.9 415.29 L522.9 414.32 L523.9 413.35 L524.9 412.39 L525.9 411.44 L526.9 410.5 L527.9 409.57 L528.9 408.65 L529.9 407.74 L530.9 406.84 L531.9 405.94 L532.9 405.06 L533.9 404.19 L534.9 403.32 L535.9 402.47 L536.9 401.62 L537.9 400.79 L538.9 399.96 L539.9 399.14 L540.9 398.34 L541.9 397.54 L542.9 396.75 L543.9 395.97 L544.9 395.2 L545.9 394.44 L546.9 393.68 L547.9 392.94 L548.9 392.21 L549.9 391.48 L550.9 390.77 L551.9 390.06 L552.9 389.37 L553.9 388.68 L554.9 388 L555.9 387.33 L556.9 386.67 L557.9 386.02 L558.9 385.38 L559.9 384.75 L560.9 384.13 L561.9 383.51 L562.9 382.91 L563.9 382.31 L564.9 381.73 L565.9 381.15 L566.9 380.58 L567.9 380.02 L568.9 379.47 L569.9 378.93 L570.9 378.4 L571.9 377.88 L572.9 377.36 L573.9 376.86 L574.9 376.36 L575.9 375.87 L576.9 375.4 L577.9 374.93 L578.9 374.47 L579.9 374.02 L580.9 373.58 L581.9 373.14 L582.9 372.72 L583.9 372.31 L584.9 371.9 L585.9 371.5 L586.9 371.11 L587.9 370.74 L588.9 370.37 L589.9 370 L590.9 369.65 L591.9 369.31 L592.9 368.97 L593.9 368.65 L594.9 368.33 L595.9 368.02 L596.9 367.72 L597.9 367.43 L598.9 367.15 L599.9 366.88 L600.9 366.61 L601.9 366.36 L602.9 366.11 L603.9 365.88 L604.9 365.65 L605.9 365.43 L606.9 365.21 L607.9 365.01 L608.9 364.82 L609.9 364.63 L610.9 364.46 L611.9 364.29 L612.9 364.13 L613.9 363.98 L614.9 363.84 L615.9 363.7 L616.9 363.58 L617.9 363.46 L618.9 363.36 L619.9 363.26 L620.9 363.17 L621.9 363.09 L622.9 363.01 L623.9 362.95 L624.9 362.89 L625.9 362.85 L626.9 362.81 L627.9 362.78 L628.9 362.75 L629.9 362.74 L630.9 362.74 L631.9 362.74 L632.9 362.75 L633.9 362.77 L634.9 362.8 L635.9 362.84 L636.9 362.89 L637.1 362.9" fill="none" stroke="#565656" stroke-width="1.7" stroke-linejoin="round" stroke-linecap="round"/>
<path d="M390.9 562.4 L391.9 562.17 L392.9 561.94 L393.9 561.72 L394.9 561.52 L395.9 561.34 L396.9 561.16 L397.9 560.96 L398.9 560.78 L399.9 560.6 L400.9 560.42 L401.9 560.21 L402.9 559.97 L403.9 559.68 L404.9 559.35 L405.9 559 L406.9 558.62 L407.9 558.21 L408.9 557.75 L409.9 557.21 L410.9 556.48 L411.9 555.5 L412.9 554.5 L413.9 553.41 L414.9 552.25 L415.9 551.07 L416.9 549.85 L417.9 548.62 L418.9 547.4 L419.9 546.19 L420.9 545.02 L421.9 543.89 L422.9 542.81 L423.9 541.75 L424.9 540.7 L425.9 539.61 L426.9 538.46 L427.9 537.24 L428.9 535.92 L429.9 534.51 L430.9 533.02 L431.9 531.52 L432.9 530.11 L433.9 528.7 L434.9 527.28 L435.9 525.85 L436.9 524.42 L437.9 522.99 L438.9 521.55 L439.9 520.11 L440.9 518.67 L441.9 517.23 L442.9 515.8 L443.9 514.37 L444.9 512.95 L445.9 511.53 L446.9 510.12 L447.9 508.72 L448.9 507.33 L449.9 505.95 L450.9 504.57 L451.9 503.21 L452.9 501.85 L453.9 500.49 L454.9 499.15 L455.9 497.81 L456.9 496.47 L457.9 495.15 L458.9 493.83 L459.9 492.51 L460.9 491.2 L461.9 489.9 L462.9 488.61 L463.9 487.32 L464.9 486.03 L465.9 484.75 L466.9 483.48 L467.9 482.21 L468.9 480.95 L469.9 479.69 L470.9 478.44 L471.9 477.19 L472.9 475.94 L473.9 474.7 L474.9 473.46 L475.9 472.23 L476.9 471 L477.9 469.78 L478.9 468.55 L479.9 467.34 L480.9 466.12 L481.9 464.91 L482.9 463.71 L483.9 462.5 L484.9 461.31 L485.9 460.11 L486.9 458.92 L487.9 457.74 L488.9 456.56 L489.9 455.38 L490.9 454.21 L491.9 453.05 L492.9 451.88 L493.9 450.73 L494.9 449.57 L495.9 448.43 L496.9 447.29 L497.9 446.15 L498.9 445.02 L499.9 443.89 L500.9 442.77 L501.9 441.65 L502.9 440.54 L503.9 439.44 L504.9 438.34 L505.9 437.24 L506.9 436.15 L507.9 435.07 L508.9 433.99 L509.9 432.92 L510.9 431.86 L511.9 430.8 L512.9 429.75 L513.9 428.7 L514.9 427.66 L515.9 426.62 L516.9 425.6 L517.9 424.57 L518.9 423.56 L519.9 422.55 L520.9 421.55 L521.9 420.55 L522.9 419.57 L523.9 418.58 L524.9 417.61 L525.9 416.64 L526.9 415.68 L527.9 414.73 L528.9 413.78 L529.9 412.84 L530.9 411.91 L531.9 410.99 L532.9 410.07 L533.9 409.16 L534.9 408.26 L535.9 407.36 L536.9 406.47 L537.9 405.59 L538.9 404.72 L539.9 403.86 L540.9 403 L541.9 402.15 L542.9 401.31 L543.9 400.47 L544.9 399.65 L545.9 398.83 L546.9 398.02 L547.9 397.22 L548.9 396.42 L549.9 395.63 L550.9 394.86 L551.9 394.09 L552.9 393.32 L553.9 392.57 L554.9 391.82 L555.9 391.09 L556.9 390.36 L557.9 389.64 L558.9 388.92 L559.9 388.22 L560.9 387.53 L561.9 386.84 L562.9 386.16 L563.9 385.49 L564.9 384.83 L565.9 384.18 L566.9 383.54 L567.9 382.9 L568.9 382.28 L569.9 381.66 L570.9 381.05 L571.9 380.45 L572.9 379.86 L573.9 379.28 L574.9 378.71 L575.9 378.15 L576.9 377.6 L577.9 377.05 L578.9 376.52 L579.9 375.99 L580.9 375.48 L581.9 374.97 L582.9 374.48 L583.9 373.99 L584.9 373.51 L585.9 373.04 L586.9 372.58 L587.9 372.14 L588.9 371.7 L589.9 371.27 L590.9 370.85 L591.9 370.44 L592.9 370.04 L593.9 369.65 L594.9 369.27 L595.9 368.9 L596.9 368.54 L597.9 368.19 L598.9 367.85 L599.9 367.52 L600.9 367.2 L601.9 366.89 L602.9 366.6 L603.9 366.31 L604.9 366.03 L605.9 365.76 L606.9 365.51 L607.9 365.26 L608.9 365.03 L609.9 364.8 L610.9 364.59 L611.9 364.39 L612.9 364.19 L613.9 364.01 L614.9 363.84 L615.9 363.68 L616.9 363.53 L617.9 363.39 L618.9 363.27 L619.9 363.15 L620.9 363.05 L621.9 362.95 L622.9 362.87 L623.9 362.8 L624.9 362.74 L625.9 362.69 L626.9 362.65 L627.9 362.63 L628.9 362.61 L629.9 362.61 L630.9 362.62 L631.9 362.64 L632.9 362.67 L633.9 362.72 L634.9 362.77 L635.9 362.84 L636.7 362.9" fill="none" stroke="#f14e4e" stroke-width="1.7" stroke-linejoin="round" stroke-linecap="round"/>
<g stroke="#3a3a3a" stroke-width="1.3" fill="none"><line x1="232.23" y1="891.3" x2="232.23" y2="889"/><line x1="253.96" y1="891.3" x2="253.96" y2="887"/><line x1="275.69" y1="891.3" x2="275.69" y2="889"/><line x1="297.42" y1="891.3" x2="297.42" y2="887"/><line x1="319.15" y1="891.3" x2="319.15" y2="889"/><line x1="340.88" y1="891.3" x2="340.88" y2="887"/><line x1="362.62" y1="891.3" x2="362.62" y2="889"/><line x1="384.35" y1="891.3" x2="384.35" y2="887"/><line x1="406.08" y1="891.3" x2="406.08" y2="889"/><line x1="427.81" y1="891.3" x2="427.81" y2="887"/><line x1="449.54" y1="891.3" x2="449.54" y2="889"/><line x1="471.27" y1="891.3" x2="471.27" y2="887"/><line x1="210.5" y1="868.6" x2="212.8" y2="868.6"/><line x1="493" y1="868.6" x2="490.7" y2="868.6"/><line x1="210.5" y1="845.9" x2="214.8" y2="845.9"/><line x1="493" y1="845.9" x2="488.7" y2="845.9"/><line x1="210.5" y1="823.2" x2="212.8" y2="823.2"/><line x1="493" y1="823.2" x2="490.7" y2="823.2"/><line x1="210.5" y1="800.5" x2="214.8" y2="800.5"/><line x1="493" y1="800.5" x2="488.7" y2="800.5"/><line x1="210.5" y1="777.8" x2="212.8" y2="777.8"/><line x1="493" y1="777.8" x2="490.7" y2="777.8"/><line x1="210.5" y1="755.1" x2="214.8" y2="755.1"/><line x1="493" y1="755.1" x2="488.7" y2="755.1"/><line x1="210.5" y1="732.4" x2="212.8" y2="732.4"/><line x1="493" y1="732.4" x2="490.7" y2="732.4"/><line x1="210.5" y1="709.7" x2="214.8" y2="709.7"/><line x1="493" y1="709.7" x2="488.7" y2="709.7"/><line x1="210.5" y1="687" x2="212.8" y2="687"/><line x1="493" y1="687" x2="490.7" y2="687"/><rect x="210.5" y="664.3" width="282.5" height="227"/></g>
<g font-family="Liberation Serif" font-size="10" fill="#161616" stroke="#444" stroke-width="0.2"><text x="210.5" y="903.8" text-anchor="middle">0.000</text><text x="253.96" y="903.8" text-anchor="middle">0.001</text><text x="297.42" y="903.8" text-anchor="middle">0.002</text><text x="340.88" y="903.8" text-anchor="middle">0.003</text><text x="384.35" y="903.8" text-anchor="middle">0.004</text><text x="427.81" y="903.8" text-anchor="middle">0.005</text><text x="471.27" y="903.8" text-anchor="middle">0.006</text><text x="205.9" y="894.3" text-anchor="end">0</text><text x="205.9" y="848.9" text-anchor="end">50</text><text x="205.9" y="803.5" text-anchor="end">100</text><text x="205.9" y="758.1" text-anchor="end">150</text><text x="205.9" y="712.7" text-anchor="end">200</text><text x="205.9" y="667.3" text-anchor="end">250</text></g>
<g font-family="Liberation Serif" font-size="11.8" fill="#161616" stroke="#444" stroke-width="0.2"><text x="351.75" y="922.6" text-anchor="middle">Strain</text><text transform="translate(185 777.8) rotate(-90)" text-anchor="middle">Stress/Mpa</text></g>
<g font-family="Liberation Serif" font-size="11.8" fill="#161616" stroke="#444" stroke-width="0.2"><line x1="329.1" y1="811.8" x2="356.5" y2="811.8" stroke="#565656" stroke-width="1.8"/><line x1="329.1" y1="826.4" x2="356.5" y2="826.4" stroke="#f14e4e" stroke-width="1.8"/><text x="359.5" y="816.3" xml:space="preserve">Test value at  <tspan dx="1">90 °</tspan></text><text x="359.5" y="830.2">Theoretical value at 90 °</text></g>
<text x="337.5" y="959.3" font-family="Liberation Serif" font-weight="bold" font-size="19.5" letter-spacing="-0.5" fill="#111" text-anchor="middle">(e) θ=90°</text>
<path d="M210.9 891.2 L211.9 891.09 L212.9 890.97 L213.9 890.86 L214.9 890.76 L215.9 890.66 L216.9 890.6 L217.9 890.58 L218.9 890.61 L219.9 890.65 L220.9 890.66 L221.9 890.55 L222.9 890.26 L223.9 889.8 L224.9 889.32 L225.9 888.86 L226.9 888.23 L227.9 887.26 L228.9 885.94 L229.9 884.45 L230.9 882.93 L231.9 881.34 L232.9 879.83 L233.9 878.47 L234.9 877.2 L235.9 876.02 L236.9 874.76 L237.9 873.53 L238.9 872.32 L239.9 871.13 L240.9 869.96 L241.9 868.8 L242.9 867.65 L243.9 866.51 L244.9 865.37 L245.9 864.23 L246.9 863.08 L247.9 861.93 L248.9 860.76 L249.9 859.57 L250.9 858.36 L251.9 857.13 L252.9 855.87 L253.9 854.58 L254.9 853.28 L255.9 851.95 L256.9 850.6 L257.9 849.23 L258.9 847.85 L259.9 846.45 L260.9 845.04 L261.9 843.62 L262.9 842.19 L263.9 840.75 L264.9 839.3 L265.9 837.85 L266.9 836.39 L267.9 834.94 L268.9 833.48 L269.9 832.02 L270.9 830.56 L271.9 829.11 L272.9 827.67 L273.9 826.23 L274.9 824.8 L275.9 823.38 L276.9 821.97 L277.9 820.57 L278.9 819.17 L279.9 817.79 L280.9 816.41 L281.9 815.04 L282.9 813.68 L283.9 812.33 L284.9 810.99 L285.9 809.65 L286.9 808.33 L287.9 807.01 L288.9 805.7 L289.9 804.4 L290.9 803.11 L291.9 801.82 L292.9 800.55 L293.9 799.28 L294.9 798.02 L295.9 796.77 L296.9 795.53 L297.9 794.29 L298.9 793.07 L299.9 791.85 L300.9 790.64 L301.9 789.44 L302.9 788.24 L303.9 787.06 L304.9 785.88 L305.9 784.71 L306.9 783.55 L307.9 782.39 L308.9 781.25 L309.9 780.11 L310.9 778.98 L311.9 777.86 L312.9 776.74 L313.9 775.63 L314.9 774.53 L315.9 773.44 L316.9 772.36 L317.9 771.28 L318.9 770.21 L319.9 769.15 L320.9 768.1 L321.9 767.05 L322.9 766.01 L323.9 764.98 L324.9 763.96 L325.9 762.94 L326.9 761.93 L327.9 760.93 L328.9 759.93 L329.9 758.95 L330.9 757.97 L331.9 757 L332.9 756.03 L333.9 755.07 L334.9 754.12 L335.9 753.18 L336.9 752.24 L337.9 751.31 L338.9 750.39 L339.9 749.47 L340.9 748.56 L341.9 747.66 L342.9 746.77 L343.9 745.88 L344.9 745 L345.9 744.12 L346.9 743.25 L347.9 742.39 L348.9 741.54 L349.9 740.69 L350.9 739.85 L351.9 739.02 L352.9 738.19 L353.9 737.37 L354.9 736.56 L355.9 735.76 L356.9 734.96 L357.9 734.17 L358.9 733.38 L359.9 732.6 L360.9 731.83 L361.9 731.07 L362.9 730.31 L363.9 729.56 L364.9 728.82 L365.9 728.08 L366.9 727.35 L367.9 726.63 L368.9 725.91 L369.9 725.2 L370.9 724.5 L371.9 723.8 L372.9 723.12 L373.9 722.44 L374.9 721.76 L375.9 721.09 L376.9 720.43 L377.9 719.78 L378.9 719.14 L379.9 718.5 L380.9 717.86 L381.9 717.24 L382.9 716.62 L383.9 716.01 L384.9 715.41 L385.9 714.81 L386.9 714.22 L387.9 713.64 L388.9 713.06 L389.9 712.49 L390.9 711.93 L391.9 711.38 L392.9 710.83 L393.9 710.29 L394.9 709.76 L395.9 709.23 L396.9 708.71 L397.9 708.2 L398.9 707.7 L399.9 707.2 L400.9 706.71 L401.9 706.23 L402.9 705.75 L403.9 705.28 L404.9 704.82 L405.9 704.37 L406.9 703.92 L407.9 703.48 L408.9 703.05 L409.9 702.62 L410.9 702.2 L411.9 701.79 L412.9 701.39 L413.9 700.99 L414.9 700.6 L415.9 700.22 L416.9 699.84 L417.9 699.47 L418.9 699.11 L419.9 698.76 L420.9 698.41 L421.9 698.07 L422.9 697.74 L423.9 697.42 L424.9 697.1 L425.9 696.79 L426.9 696.49 L427.9 696.19 L428.9 695.91 L429.9 695.62 L430.9 695.35 L431.9 695.09 L432.9 694.83 L433.9 694.58 L434.9 694.33 L435.9 694.1 L436.9 693.87 L437.9 693.64 L438.9 693.43 L439.9 693.22 L440.9 693.02 L441.9 692.83 L442.9 692.65 L443.9 692.47 L444.9 692.3 L445.9 692.14 L446.9 691.98 L447.9 691.83 L448.9 691.69 L449.9 691.56 L450.9 691.43 L451.9 691.31 L452.9 691.2 L453.9 691.1" fill="none" stroke="#565656" stroke-width="1.7" stroke-linejoin="round" stroke-linecap="round"/>
<path d="M210.9 886.3 L211.9 886.06 L212.9 885.82 L213.9 885.58 L214.9 885.34 L215.9 885.09 L216.9 884.84 L217.9 884.57 L218.9 884.3 L219.9 884.02 L220.9 883.72 L221.9 883.4 L222.9 883.07 L223.9 882.71 L224.9 882.34 L225.9 881.94 L226.9 881.52 L227.9 881.06 L228.9 880.58 L229.9 880.07 L230.9 879.53 L231.9 878.94 L232.9 878.33 L233.9 877.67 L234.9 876.97 L235.9 876.24 L236.9 875.45 L237.9 874.62 L238.9 873.75 L239.9 872.84 L240.9 871.89 L241.9 870.91 L242.9 869.89 L243.9 868.83 L244.9 867.74 L245.9 866.62 L246.9 865.48 L247.9 864.3 L248.9 863.1 L249.9 861.87 L250.9 860.63 L251.9 859.36 L252.9 858.07 L253.9 856.77 L254.9 855.45 L255.9 854.11 L256.9 852.76 L257.9 851.41 L258.9 850.04 L259.9 848.66 L260.9 847.28 L261.9 845.9 L262.9 844.51 L263.9 843.12 L264.9 841.73 L265.9 840.33 L266.9 838.94 L267.9 837.54 L268.9 836.14 L269.9 834.74 L270.9 833.33 L271.9 831.93 L272.9 830.52 L273.9 829.12 L274.9 827.71 L275.9 826.3 L276.9 824.9 L277.9 823.49 L278.9 822.08 L279.9 820.67 L280.9 819.27 L281.9 817.86 L282.9 816.46 L283.9 815.05 L284.9 813.65 L285.9 812.25 L286.9 810.85 L287.9 809.45 L288.9 808.06 L289.9 806.66 L290.9 805.27 L291.9 803.88 L292.9 802.49 L293.9 801.11 L294.9 799.73 L295.9 798.35 L296.9 796.98 L297.9 795.6 L298.9 794.24 L299.9 792.87 L300.9 791.51 L301.9 790.16 L302.9 788.81 L303.9 787.46 L304.9 786.12 L305.9 784.78 L306.9 783.45 L307.9 782.13 L308.9 780.81 L309.9 779.49 L310.9 778.18 L311.9 776.88 L312.9 775.58 L313.9 774.29 L314.9 773 L315.9 771.73 L316.9 770.46 L317.9 769.19 L318.9 767.94 L319.9 766.69 L320.9 765.45 L321.9 764.21 L322.9 762.99 L323.9 761.77 L324.9 760.56 L325.9 759.36 L326.9 758.17 L327.9 756.98 L328.9 755.81 L329.9 754.64 L330.9 753.49 L331.9 752.34 L332.9 751.21 L333.9 750.08 L334.9 748.96 L335.9 747.86 L336.9 746.76 L337.9 745.68 L338.9 744.6 L339.9 743.54 L340.9 742.49 L341.9 741.45 L342.9 740.42 L343.9 739.4 L344.9 738.39 L345.9 737.39 L346.9 736.41 L347.9 735.43 L348.9 734.47 L349.9 733.52 L350.9 732.58 L351.9 731.64 L352.9 730.73 L353.9 729.82 L354.9 728.92 L355.9 728.03 L356.9 727.16 L357.9 726.29 L358.9 725.44 L359.9 724.6 L360.9 723.76 L361.9 722.94 L362.9 722.13 L363.9 721.34 L364.9 720.55 L365.9 719.77 L366.9 719 L367.9 718.25 L368.9 717.5 L369.9 716.77 L370.9 716.05 L371.9 715.34 L372.9 714.63 L373.9 713.94 L374.9 713.26 L375.9 712.6 L376.9 711.94 L377.9 711.29 L378.9 710.65 L379.9 710.03 L380.9 709.41 L381.9 708.81 L382.9 708.22 L383.9 707.63 L384.9 707.06 L385.9 706.5 L386.9 705.95 L387.9 705.41 L388.9 704.88 L389.9 704.36 L390.9 703.86 L391.9 703.36 L392.9 702.87 L393.9 702.4 L394.9 701.93 L395.9 701.48 L396.9 701.03 L397.9 700.6 L398.9 700.18 L399.9 699.76 L400.9 699.36 L401.9 698.97 L402.9 698.59 L403.9 698.22 L404.9 697.86 L405.9 697.51 L406.9 697.17 L407.9 696.85 L408.9 696.53 L409.9 696.22 L410.9 695.93 L411.9 695.64 L412.9 695.36 L413.9 695.1 L414.9 694.84 L415.9 694.6 L416.9 694.37 L417.9 694.14 L418.9 693.93 L419.9 693.73 L420.9 693.54 L421.9 693.35 L422.9 693.18 L423.9 693.02 L424.9 692.87 L425.9 692.73 L426.9 692.6 L427.9 692.48 L428.9 692.37 L429.9 692.27 L430.9 692.18 L431.9 692.11 L432.9 692.04 L433.9 691.98 L434.9 691.93 L435.9 691.9 L436.9 691.87 L437.9 691.85 L438.9 691.85 L439.9 691.85 L440.9 691.86 L441.9 691.89 L442.9 691.92 L443.9 691.97 L444.9 692.02 L445.9 692.09 L446.9 692.16 L447.9 692.25 L448.9 692.34 L449.9 692.45 L450.9 692.56 L451.9 692.69 L452.9 692.82 L453.9 692.97 L454.9 693.12 L455.9 693.29 L456.5 693.39" fill="none" stroke="#f14e4e" stroke-width="1.7" stroke-linejoin="round" stroke-linecap="round"/>
</svg>
</body></html>
